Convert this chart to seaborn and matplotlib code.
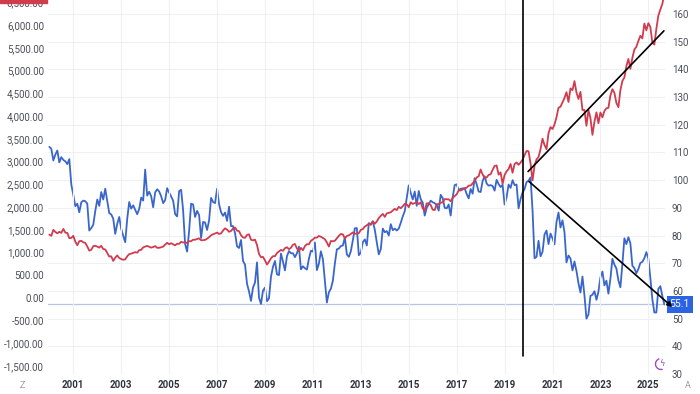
import numpy as np
import pandas as pd
import matplotlib
matplotlib.use("Agg")
import matplotlib.pyplot as plt
import matplotlib.transforms as mtransforms
from matplotlib.patches import Rectangle, Arc
import seaborn as sns

# ---------------- data (monthly, Jan 2000 .. Sep 2025) ----------------
start_year = 2000

# S&P 500 (left axis, red)
sp500 = [
    1394, 1366, 1499, 1452, 1421, 1455, 1431, 1518, 1437, 1429, 1315, 1320,  # 2000
    1366, 1240, 1160, 1249, 1256, 1224, 1211, 1134, 1041, 1060, 1139, 1148,  # 2001
    1130, 1107, 1147, 1077, 1067, 990, 912, 916, 815, 886, 936, 880,         # 2002
    856, 841, 848, 917, 964, 975, 990, 1008, 996, 1051, 1058, 1112,          # 2003
    1131, 1145, 1126, 1107, 1121, 1141, 1102, 1104, 1115, 1130, 1174, 1212,  # 2004
    1181, 1204, 1181, 1157, 1192, 1191, 1234, 1220, 1229, 1207, 1249, 1248,  # 2005
    1280, 1281, 1295, 1311, 1270, 1270, 1277, 1304, 1336, 1378, 1401, 1418,  # 2006
    1438, 1407, 1421, 1482, 1531, 1503, 1455, 1474, 1527, 1549, 1481, 1468,  # 2007
    1379, 1331, 1323, 1386, 1400, 1280, 1267, 1283, 1166, 969, 896, 903,     # 2008
    826, 735, 798, 873, 919, 919, 987, 1021, 1057, 1036, 1096, 1115,         # 2009
    1074, 1104, 1169, 1187, 1089, 1031, 1102, 1049, 1141, 1183, 1181, 1258,  # 2010
    1286, 1327, 1326, 1364, 1345, 1321, 1292, 1219, 1131, 1253, 1247, 1258,  # 2011
    1312, 1366, 1408, 1398, 1310, 1362, 1379, 1407, 1441, 1412, 1416, 1426,  # 2012
    1498, 1515, 1569, 1598, 1631, 1606, 1686, 1633, 1682, 1757, 1806, 1848,  # 2013
    1783, 1859, 1872, 1884, 1924, 1960, 1931, 2003, 1972, 2018, 2068, 2059,  # 2014
    1995, 2105, 2068, 2086, 2107, 2063, 2104, 1972, 1920, 2079, 2080, 2044,  # 2015
    1940, 1932, 2060, 2065, 2097, 2099, 2174, 2171, 2168, 2126, 2199, 2239,  # 2016
    2279, 2364, 2363, 2384, 2412, 2423, 2470, 2472, 2519, 2575, 2648, 2674,  # 2017
    2824, 2714, 2641, 2648, 2705, 2718, 2816, 2902, 2914, 2712, 2760, 2507,  # 2018
    2704, 2784, 2834, 2946, 2752, 2942, 2980, 2926, 2977, 3038, 3141, 3231,  # 2019
    3226, 2954, 2585, 2912, 3044, 3100, 3271, 3500, 3363, 3270, 3622, 3756,  # 2020
    3714, 3811, 3973, 4181, 4204, 4298, 4395, 4523, 4308, 4605, 4567, 4766,  # 2021
    4516, 4374, 4530, 4132, 4132, 3785, 4130, 3955, 3586, 3872, 4080, 3840,  # 2022
    4077, 3970, 4109, 4169, 4180, 4450, 4589, 4508, 4288, 4194, 4568, 4770,  # 2023
    4846, 5096, 5254, 5036, 5278, 5460, 5522, 5648, 5762, 5705, 6032, 5882,  # 2024
    6041, 5955, 5612, 5569, 5912, 6205, 6339, 6460, 6688,                    # 2025
]

# Consumer sentiment (right axis, blue)
sentiment = [
    112.0, 111.3, 107.1, 109.2, 110.7, 106.4, 108.3, 107.3, 106.8, 105.8, 107.6, 98.4,  # 2000
    94.7, 90.6, 91.5, 88.4, 92.0, 92.6, 92.4, 91.5, 81.8, 82.7, 83.9, 88.8,            # 2001
    93.0, 90.7, 95.7, 93.0, 96.9, 92.4, 88.1, 87.6, 86.1, 80.6, 84.2, 86.7,            # 2002
    82.4, 79.9, 77.6, 86.0, 92.1, 89.7, 90.9, 89.3, 87.7, 89.6, 93.7, 92.6,            # 2003
    103.8, 94.4, 95.8, 94.2, 90.2, 95.6, 96.7, 95.9, 94.2, 91.7, 92.8, 97.1,           # 2004
    95.5, 94.1, 92.6, 87.7, 86.9, 96.0, 96.5, 89.1, 76.9, 74.2, 81.6, 91.5,            # 2005
    91.2, 86.7, 88.9, 87.4, 79.1, 84.9, 84.7, 82.0, 85.4, 93.6, 92.1, 91.7,            # 2006
    96.9, 91.3, 88.4, 87.1, 88.3, 85.3, 90.4, 83.4, 83.4, 80.9, 76.1, 75.5,            # 2007
    78.4, 70.8, 69.5, 62.6, 59.8, 56.4, 61.2, 63.0, 70.3, 57.6, 55.3, 60.1,            # 2008
    61.2, 56.3, 57.3, 65.1, 68.7, 70.8, 66.0, 65.7, 73.5, 70.6, 67.4, 72.5,            # 2009
    74.4, 73.6, 73.6, 72.2, 73.6, 76.0, 67.8, 68.9, 68.2, 67.7, 71.6, 74.5,            # 2010
    74.2, 77.5, 67.5, 69.8, 74.3, 71.5, 63.7, 55.8, 59.5, 60.8, 63.7, 69.9,            # 2011
    75.0, 75.3, 76.2, 76.4, 79.3, 73.2, 72.3, 74.3, 78.3, 82.6, 82.7, 72.9,            # 2012
    73.8, 77.6, 78.6, 76.4, 84.5, 84.1, 85.1, 82.1, 77.5, 73.2, 75.1, 82.5,            # 2013
    81.2, 81.6, 80.0, 84.1, 81.9, 82.5, 81.8, 82.5, 84.6, 86.9, 88.8, 93.6,            # 2014
    98.1, 95.4, 93.0, 95.9, 90.7, 96.1, 93.1, 91.9, 87.2, 90.0, 91.3, 92.6,            # 2015
    92.0, 91.7, 91.0, 89.0, 94.7, 93.5, 90.0, 89.8, 91.2, 87.2, 93.8, 98.2,            # 2016
    98.5, 96.3, 96.9, 97.0, 97.1, 95.0, 93.4, 96.8, 95.1, 100.7, 98.5, 95.9,           # 2017
    95.7, 99.7, 101.4, 98.8, 98.0, 98.2, 97.9, 96.2, 100.1, 98.6, 97.5, 98.3,          # 2018
    91.2, 93.8, 98.4, 97.2, 100.0, 98.2, 98.4, 89.8, 93.2, 95.5, 96.8, 99.3,           # 2019
    99.8, 101.0, 89.1, 71.8, 72.3, 78.1, 72.5, 74.1, 80.4, 81.8, 76.9, 80.7,           # 2020
    79.0, 76.8, 84.9, 88.3, 82.9, 85.5, 81.2, 70.3, 72.8, 71.7, 67.4, 70.6,            # 2021
    67.2, 62.8, 59.4, 65.2, 58.4, 50.0, 51.5, 58.2, 58.6, 59.9, 56.8, 59.7,            # 2022
    64.9, 67.0, 62.0, 63.7, 59.0, 64.4, 71.6, 69.5, 68.1, 63.8, 61.3, 69.7,            # 2023
    79.0, 76.9, 79.4, 77.2, 69.1, 68.2, 66.4, 67.9, 70.1, 70.5, 71.8, 74.0,            # 2024
    71.7, 64.7, 57.0, 52.2, 52.2, 60.7, 61.7, 58.2, 55.1,                              # 2025
]

left_ticks = list(range(-1500, 7000, 500))
right_ticks = list(range(30, 170, 10))
year_ticks = list(range(2001, 2027, 2))
last_label = "55.1"

# hand-drawn annotation lines (time in years, values on the right axis)
vline_t = 2019.77
vline_low = 36.5
up_t = [2019.98, 2025.65]
up_v = [103.1, 153.9]
down_t = [2020.02, 2026.0]
down_v = [99.5, 54.2]

# ---------------- style ----------------
RED = "#d13b4e"
BLUE = "#3a66cc"
TXT = "#4a4e59"

sns.set_theme(style="white")
plt.rcParams["font.family"] = ["Roboto", "DejaVu Sans"]

n = len(sp500)
df = pd.DataFrame({
    "t": start_year + np.arange(n) / 12.0,
    "sp500": sp500,
    "sentiment": sentiment,
})

W, H = 700, 394
fig = plt.figure(figsize=(W / 100, H / 100), dpi=100)
fig.patch.set_facecolor("white")
ax = fig.add_axes([48 / W, 1 - 374 / H, (665 - 48) / W, 374 / H])
ax2 = ax.twinx()
ax.set_zorder(3)
ax2.set_zorder(2)
ax.patch.set_visible(False)

# series
sns.lineplot(data=df, x="t", y="sentiment", ax=ax2, color=BLUE, lw=1.3)
sns.lineplot(data=df, x="t", y="sp500", ax=ax, color=RED, lw=1.3)

# limits
ax.set_xlim(1999.944, 2025.695)
ax.set_ylim(-1670, 6549)
ax2.set_ylim(30.36, 165.04)

# ticks: left axis labels written as text at the tick values
ax.set_yticks(left_ticks)
ax.set_yticklabels([])
yblend = mtransforms.blended_transform_factory(ax.transAxes, ax.transData)
for v in left_ticks:
    ax.text(-0.0065, v, f"{v:,.2f}", transform=yblend, ha="right", va="center_baseline",
            fontsize=7, color=TXT, clip_on=False)
ax2.set_yticks(right_ticks)
ax2.set_yticklabels([str(v) for v in right_ticks])
ax.set_xticks(year_ticks)
ax.set_xticklabels([str(y) for y in year_ticks])

ax.tick_params(axis="y", length=0, pad=3, labelsize=7, labelcolor=TXT)
ax2.tick_params(axis="y", length=0, pad=5, labelsize=7, labelcolor=TXT)
ax.tick_params(axis="x", length=0, pad=4, labelsize=7, labelcolor="#2f333d")
for lab in ax.get_xticklabels():
    lab.set_fontweight("semibold")

for a in (ax, ax2):
    a.set_xlabel("")
    a.set_ylabel("")
    for s in a.spines.values():
        s.set_visible(False)

ax2.grid(axis="y", color="#eef0f6", lw=0.8)
ax.grid(axis="x", color="#eef0f6", lw=0.8)
ax.grid(axis="y", visible=False)

# last value line + label for sentiment
ax2.axhline(sentiment[-1], color="#b9c3e6", lw=0.9, zorder=1)
blend = mtransforms.blended_transform_factory(ax2.transAxes, ax2.transData)
ax2.text(1.0075, sentiment[-1], last_label, transform=blend, ha="left", va="center",
         color="white", fontsize=7.5, clip_on=False, zorder=5,
         bbox=dict(boxstyle="square,pad=0.3", fc="#2b63e3", ec="none"))

# annotation lines (drawn on top)
ax.plot([vline_t, vline_t], [vline_low, 170], transform=ax2.transData,
        color="black", lw=1.2, zorder=6)
ax.plot(up_t, up_v, transform=ax2.transData, color="black", lw=1.2, zorder=6)
ax.annotate("", xy=(down_t[1], down_v[1]), xytext=(down_t[0], down_v[0]),
            xycoords=ax2.transData, textcoords=ax2.transData,
            arrowprops=dict(arrowstyle="-|>", color="black", lw=1.2,
                            mutation_scale=7, shrinkA=0, shrinkB=0),
            annotation_clip=False, zorder=7)

# decorations: red last-value tag at top-left, Z / A markers, icon
fig.patches.append(Rectangle((0, 1 - 2.5 / H), 47 / W, 2.5 / H,
                             transform=fig.transFigure, color=RED, zorder=10))
fig.text(22 / W, 1 - 385 / H, "Z", ha="center", va="center", fontsize=6.5, color="#9a9da6")
fig.text(688 / W, 1 - 385 / H, "A", ha="center", va="center", fontsize=6.5, color="#9a9da6")
fig.add_artist(Arc((661 / W, 1 - 364 / H), 11 / W, 11 / H, theta1=100, theta2=280,
                   transform=fig.transFigure, color="#a04cc0", lw=1.0))
fig.text(662 / W, 1 - 364 / H, "ϟ", ha="center", va="center", fontsize=6,
         color="#a04cc0", family=["DejaVu Sans"])

fig.savefig("out.png", dpi=100)
